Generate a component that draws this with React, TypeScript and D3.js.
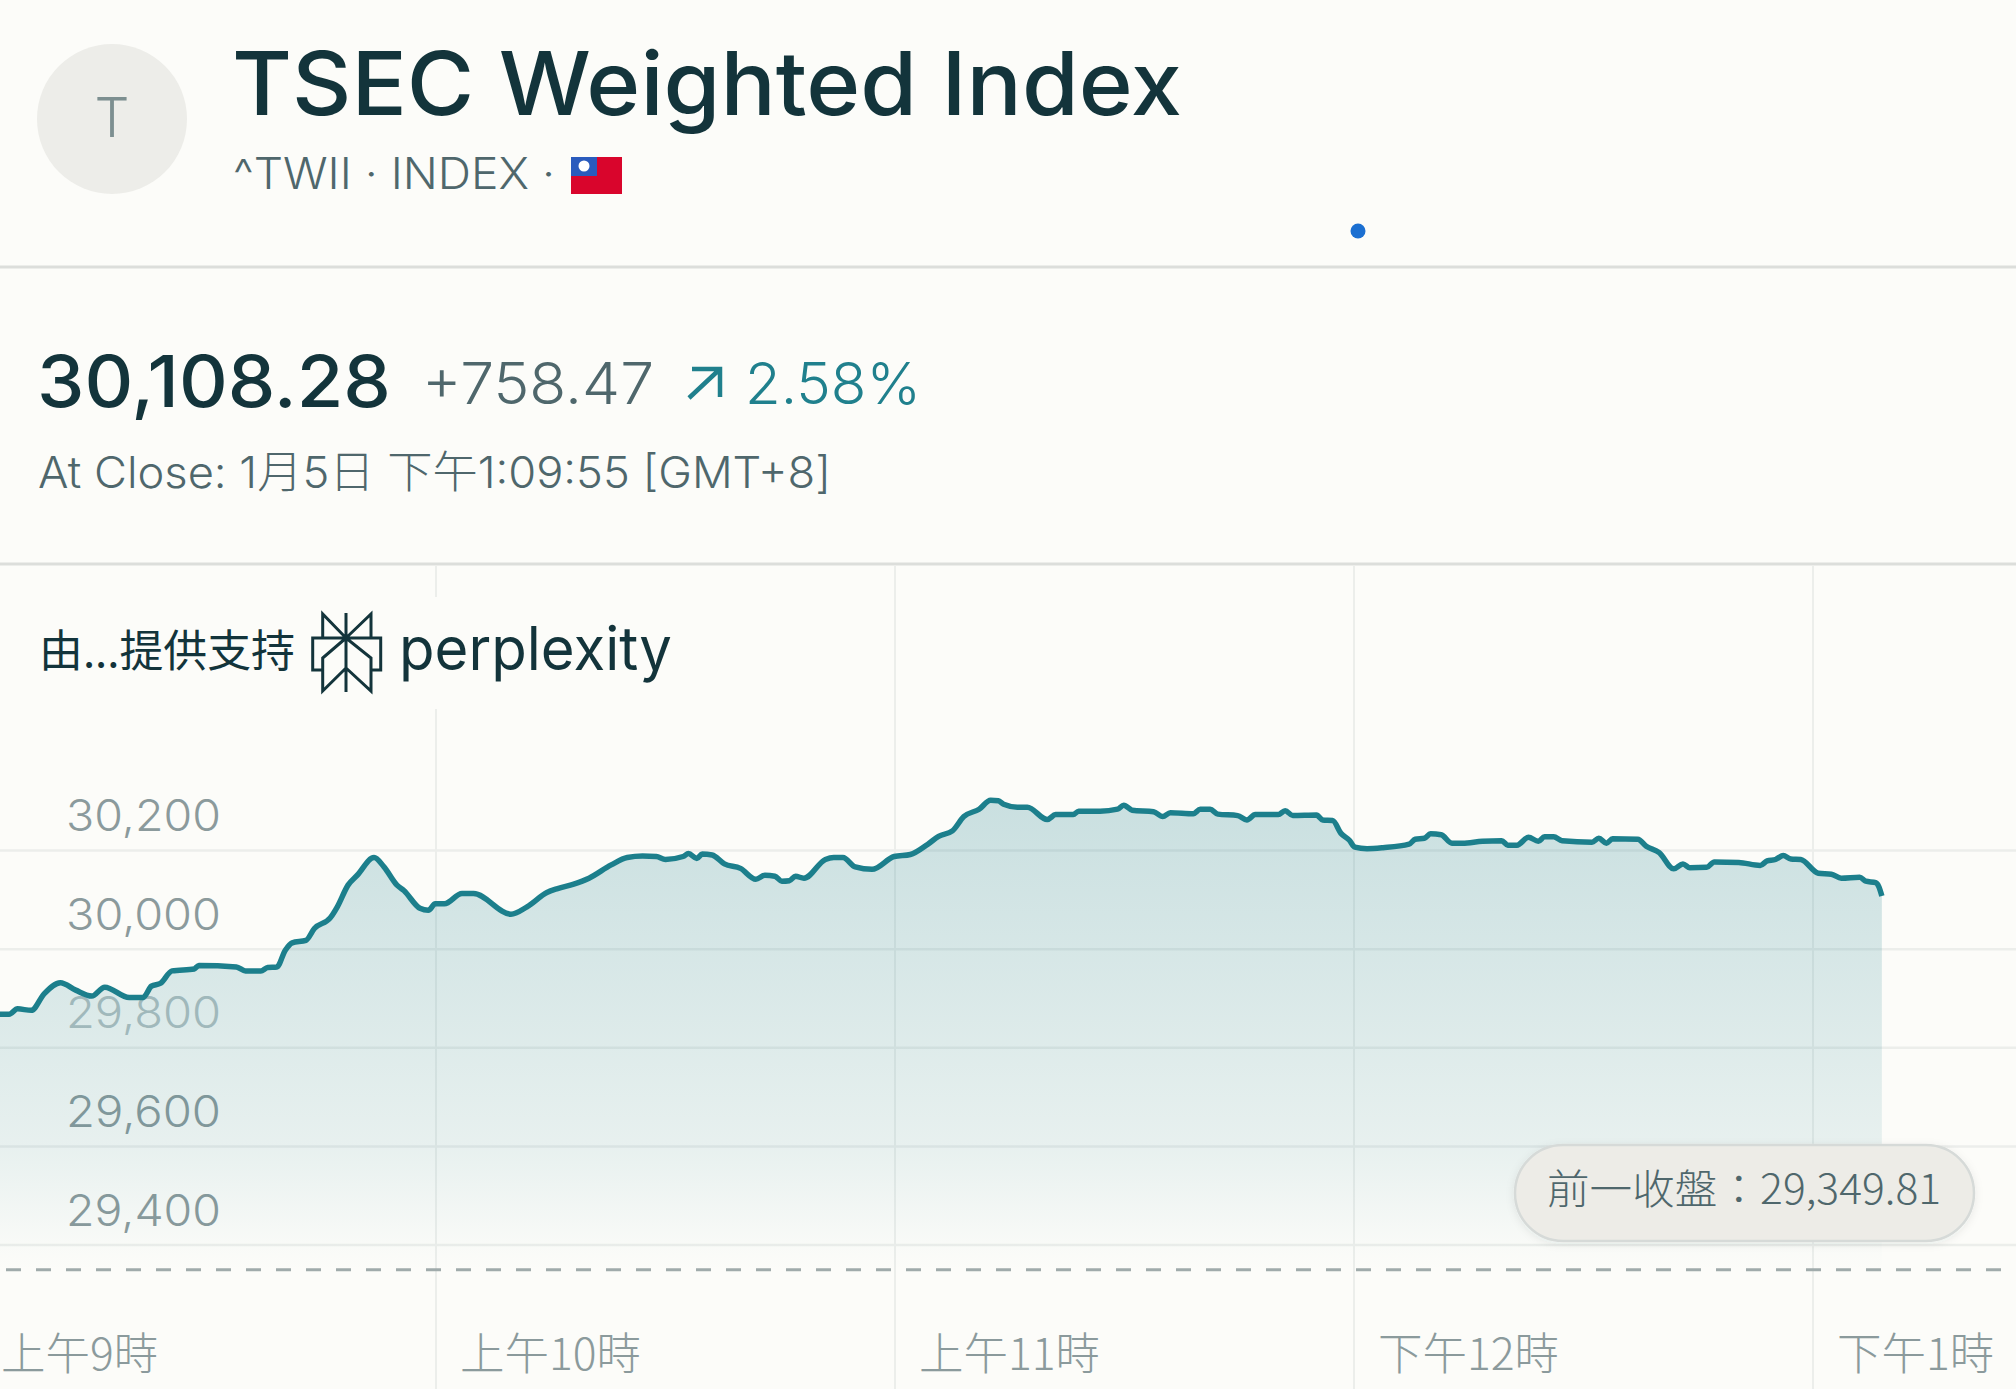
import React from 'react'
import { scaleLinear, line, area, curveMonotoneX } from 'd3'

// minutes after 9:00 and index level
const minutes = [0, 3.0, 4.2, 5.3, 7.1, 8.8, 10.9, 12.9, 15.0, 16.7, 19.9, 21.7, 22.8, 24.0, 25.5, 28.4, 29.0, 33.9, 35.1, 37.1, 38.0, 39.2, 40.3, 41.2, 43.0, 44.1, 46.2, 47.1, 48.5, 49.7, 51.9, 53.2, 54.9, 55.8, 57.9, 59.0, 59.9, 61.1, 63.4, 64.9, 69.8, 71.9, 74.5, 75.9, 78.0, 80.0, 82.9, 85.0, 87.0, 88.8, 90.0, 92.3, 93.0, 94.1, 94.8, 96.1, 97.7, 99.8, 101.8, 103.0, 104.3, 105.2, 106.2, 107.0, 108.1, 110.9, 112.0, 113.2, 114.8, 117.0, 119.9, 122.0, 124.3, 125.7, 127.5, 129.0, 131.0, 132.5, 133.5, 134.2, 136.0, 137.3, 139.9, 141.0, 143.3, 144.0, 146.8, 149.1, 149.9, 151.0, 153.8, 155.0, 156.0, 159.0, 159.9, 161.2, 162.2, 164.8, 166.0, 167.1, 170.1, 171.0, 172.0, 175.1, 175.9, 177.2, 178.3, 179.4, 180.1, 181.7, 183.8, 187.2, 188.0, 189.2, 190.0, 191.4, 192.8, 194.2, 196.8, 199.3, 200.1, 201.3, 202.8, 204.1, 204.9, 206.1, 207.2, 211.1, 212.0, 213.0, 213.8, 217.1, 218.2, 219.9, 221.8, 223.0, 223.9, 226.1, 227.1, 230.3, 233.1, 234.0, 235.1, 236.1, 237.1, 238.4, 240.7, 242.4, 243.7, 246.1, 246.9, 248.2, 248.6, 249.0]
const levels = [29862, 29868, 29868, 29879, 29876, 29910, 29932, 29917, 29905, 29923, 29902, 29902, 29925, 29931, 29956, 29960, 29967, 29964, 29956, 29956, 29963, 29964, 29998, 30013, 30018, 30042, 30064, 30086, 30130, 30150, 30186, 30167, 30130, 30119, 30083, 30079, 30092, 30092, 30113, 30113, 30071, 30086, 30115, 30123, 30132, 30144, 30171, 30186, 30189, 30188, 30182, 30188, 30194, 30184, 30193, 30191, 30173, 30164, 30142, 30150, 30148, 30138, 30139, 30148, 30144, 30182, 30186, 30186, 30167, 30162, 30188, 30192, 30213, 30229, 30240, 30269, 30284, 30302, 30301, 30294, 30288, 30288, 30263, 30273, 30273, 30280, 30280, 30284, 30292, 30282, 30279, 30269, 30277, 30275, 30284, 30284, 30274, 30271, 30262, 30273, 30273, 30281, 30271, 30272, 30262, 30261, 30235, 30221, 30207, 30204, 30206, 30213, 30223, 30225, 30234, 30232, 30215, 30215, 30219, 30220, 30211, 30211, 30227, 30219, 30228, 30228, 30220, 30217, 30225, 30215, 30224, 30223, 30209, 30196, 30163, 30173, 30165, 30166, 30177, 30176, 30170, 30179, 30182, 30190, 30183, 30182, 30154, 30152, 30144, 30146, 30138, 30135, 30127, 30108]

const yTicks = [30200, 30000, 29800, 29600, 29400]
const yLabels = ['30,200', '30,000', '29,800', '29,600', '29,400']
const xTicks = [0, 60, 120, 180, 240]
const xLabels = ['上午9時', '上午10時', '上午11時', '下午12時', '下午1時']
const prevClose = 29349.81

const SANS = 'Inter, "Noto Sans CJK TC", sans-serif'
const CJK = '"Noto Sans CJK TC", Inter, sans-serif'
const INK = '#13343b'
const MUTED = '#4f676c'
const FAINT = '#8b9a9c'
const TEAL = '#20808d'
const BG = '#fcfcf9'
const GRID = '#eceeeb'

const x = scaleLinear().domain([0, 240]).range([-23, 1813])
const y = scaleLinear().domain([29400, 30200]).range([1245, 850.6])

const points = minutes.map((m, i) => ({ m, v: levels[i] }))
const linePath = line<any>().x(d => x(d.m)).y(d => y(d.v)).curve(curveMonotoneX)
const areaPath = area<any>().x(d => x(d.m)).y0(y(prevClose)).y1(d => y(d.v)).curve(curveMonotoneX)

export default function App () {
  return (
    <svg width={2016} height={1389} viewBox="0 0 2016 1389"
      style={{ position: 'fixed', left: 0, top: 0, background: BG }}>
      <defs>
        <linearGradient id="fade" gradientUnits="userSpaceOnUse" x1="0" x2="0" y1={y(30302)} y2={y(prevClose)}>
          <stop offset="0" stopColor={TEAL} stopOpacity={0.23} />
          <stop offset="0.55" stopColor={TEAL} stopOpacity={0.13} />
          <stop offset="0.75" stopColor={TEAL} stopOpacity={0.09} />
          <stop offset="0.95" stopColor={TEAL} stopOpacity={0.015} />
          <stop offset="1" stopColor={TEAL} stopOpacity={0} />
        </linearGradient>
        <filter id="pillShadow" x="-10%" y="-20%" width="120%" height="150%">
          <feDropShadow dx="0" dy="2" stdDeviation="4" floodColor="#13343b" floodOpacity="0.08" />
        </filter>
      </defs>

      {/* header */}
      <circle cx={112} cy={119} r={75} fill="#edede9" />
      <text x={112} y={137} textAnchor="middle" fontFamily={SANS} fontSize={55} fontWeight={300} fill="#7d8f90">T</text>
      <text x={232} y={115} fontFamily={SANS} fontSize={88} fontWeight={500} fill={INK}
        textLength={950} lengthAdjust="spacingAndGlyphs">TSEC Weighted Index</text>
      <text x={233} y={189} fontFamily={SANS} fontSize={43} fontWeight={300} fill={MUTED}
        textLength={322} lengthAdjust="spacingAndGlyphs">^TWII · INDEX ·</text>
      <rect x={571} y={157} width={51} height={37} fill="#d9052c" />
      <rect x={571} y={157} width={26} height={19} fill="#2a5bbd" />
      <circle cx={584} cy={166} r={5.5} fill="#fff" />
      <line x1={0} x2={2016} y1={267} y2={267} stroke="#dcdedb" strokeWidth={3} />
      <circle cx={1358} cy={231} r={7.5} fill="#1b6fd1" />

      {/* quote */}
      <text x={37} y={407} fontFamily={SANS} fontSize={72} fontWeight={500} fill={INK}
        textLength={354} lengthAdjust="spacingAndGlyphs">30,108.28</text>
      <text x={422} y={404} fontFamily={SANS} fontSize={58} fontWeight={300} fill={MUTED}
        textLength={232} lengthAdjust="spacingAndGlyphs">+758.47</text>
      <path d="M689 398 L720 369 M692 369 H720 V397" fill="none" stroke={TEAL} strokeWidth={4.5} />
      <text x={745} y={404} fontFamily={SANS} fontSize={58} fontWeight={300} fill={TEAL}
        textLength={176} lengthAdjust="spacingAndGlyphs">2.58%</text>
      <text x={38} y={488} fontFamily={SANS} fontSize={44} fontWeight={300} fill={MUTED}
        textLength={793} lengthAdjust="spacingAndGlyphs">At Close: 1月5日 下午1:09:55 [GMT+8]</text>
      <line x1={0} x2={2016} y1={564} y2={564} stroke="#dcdedb" strokeWidth={3} />

      {/* grid */}
      {xTicks.map(t => (
        <line key={t} x1={x(t)} x2={x(t)} y1={566} y2={1389} stroke={GRID} strokeWidth={2} />
      ))}
      {yTicks.map(t => (
        <line key={t} x1={0} x2={2016} y1={y(t)} y2={y(t)} stroke={GRID} strokeWidth={2.5} />
      ))}

      {/* branding sits on a plain patch that hides the grid */}
      <rect x={20} y={597} width={670} height={112} fill={BG} />
      <text x={39} y={667} fontFamily={CJK} fontSize={44} fontWeight={400} fill={INK}
        textLength={256} lengthAdjust="spacingAndGlyphs">由...提供支持</text>
      <path d="M322.7 638 V614 L346 638 L371 614 V638 M322.7 670 H312.7 V638 H380.7 V670 H371 M346 613 V692 M346 638 L322.7 658 V691 L346 668 L371 691 V658 L346 638"
        fill="none" stroke={INK} strokeWidth={3} />
      <text x={399} y={670} fontFamily={SANS} fontSize={60} fontWeight={400} fill={INK}
        textLength={273} lengthAdjust="spacingAndGlyphs">perplexity</text>

      {/* labels sit under the area, so the one it crosses goes pale */}
      {yTicks.map((t, i) => (
        <text key={t} x={66} y={y(t) - 19.5} fontFamily={SANS} fontSize={43} fontWeight={300}
          fill={t === 29800 ? '#b6c2c3' : FAINT} textLength={155} lengthAdjust="spacingAndGlyphs">{yLabels[i]}</text>
      ))}

      <path d={areaPath(points) as string} fill="url(#fade)" />
      <path d={linePath(points) as string} fill="none" stroke="#1c7f8c" strokeWidth={5.5} strokeLinejoin="round" />

      <line x1={6} x2={2016} y1={y(prevClose)} y2={y(prevClose)} stroke="#a0abab" strokeWidth={3} strokeDasharray="15 15" />

      {xTicks.map((t, i) => (
        <text key={t} x={x(t) + 24} y={1370} fontFamily={CJK} fontSize={44.5} fontWeight={300} fill={FAINT}>{xLabels[i]}</text>
      ))}

      <rect x={1515} y={1145} width={459} height={96} rx={48} fill="#edece7" stroke="#d6dad8" strokeWidth={2.5} filter="url(#pillShadow)" />
      <text x={1547} y={1204} fontFamily={CJK} fontSize={41} fontWeight={300} fill={MUTED}
        textLength={394} lengthAdjust="spacingAndGlyphs">前一收盤：29,349.81</text>
    </svg>
  )
}
